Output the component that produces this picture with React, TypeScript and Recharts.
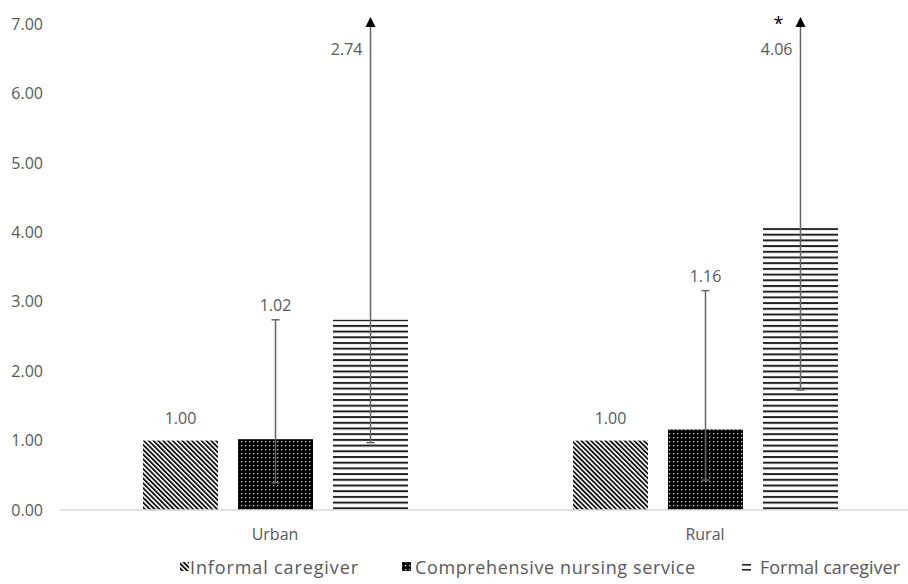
import React from 'react';
import { BarChart, Bar, XAxis, YAxis } from 'recharts';

const categories = ['Urban', 'Rural'];
const informal = [1.0, 1.0];
const comprehensive = [1.02, 1.16];
const comprehensiveLow = [0.39, 0.43];
const comprehensiveHigh = [2.74, 3.16];
const formal = [2.74, 4.06];
const formalLow = [0.97, 1.73];
const formalHigh = [7.7, 9.5]; // beyond axis (shown with arrow)
const formalSig = ['', '*'];
const yTicks = [0, 1, 2, 3, 4, 5, 6, 7];
const legendNames = ['Informal caregiver', 'Comprehensive nursing service', 'Formal caregiver'];

const Y_MAX = 7;
const FONT = '"Open Sans", sans-serif';
const TEXT = '#595959';

const data = categories.map((c, i) => ({
  name: c,
  informal: informal[i],
  comprehensive: comprehensive[i],
  compLow: comprehensiveLow[i],
  compHigh: comprehensiveHigh[i],
  formal: formal[i],
  formalLow: formalLow[i],
  formalHigh: formalHigh[i],
  sig: formalSig[i],
}));

const fmt = (v: number) => v.toFixed(2);

function makeShape(kind: 'informal' | 'comprehensive' | 'formal', pattern: string) {
  return (props: any) => {
    const { x, y, width, height, payload } = props;
    const value = payload[kind];
    const base = y + height;
    const ppu = height / value;
    const yAt = (v: number) => base - v * ppu;
    const cx = x + width / 2;
    const els: any[] = [];
    els.push(<rect key="r" x={x} y={y} width={width} height={height} fill={`url(#${pattern})`} />);
    if (kind === 'informal') {
      els.push(
        <text key="t" x={cx} y={y - 23} dy={6} textAnchor="middle" fontFamily={FONT} fontSize={16} fill={TEXT}>
          {fmt(value)}
        </text>
      );
    } else if (kind === 'comprehensive') {
      const lo = yAt(payload.compLow);
      const hi = yAt(payload.compHigh);
      els.push(<line key="l" x1={cx} x2={cx} y1={lo} y2={hi} stroke="#666" strokeWidth={1.5} />);
      els.push(<line key="c1" x1={cx - 4} x2={cx + 4} y1={lo} y2={lo} stroke="#666" strokeWidth={1.5} />);
      els.push(<line key="c2" x1={cx - 4} x2={cx + 4} y1={hi} y2={hi} stroke="#666" strokeWidth={1.5} />);
      els.push(
        <text key="t" x={cx} y={hi - 15} dy={6} textAnchor="middle" fontFamily={FONT} fontSize={16} fill={TEXT}>
          {fmt(value)}
        </text>
      );
    } else {
      const lo = yAt(payload.formalLow);
      const top = yAt(Math.min(payload.formalHigh, Y_MAX));
      const clipped = payload.formalHigh > Y_MAX;
      els.push(<line key="l" x1={cx} x2={cx} y1={lo} y2={top + 2} stroke="#666" strokeWidth={1.5} />);
      els.push(<line key="c1" x1={cx - 4} x2={cx + 4} y1={lo} y2={lo} stroke="#666" strokeWidth={1.5} />);
      if (clipped) {
        els.push(
          <polygon key="a" points={`${cx - 5},${top + 3} ${cx + 5},${top + 3} ${cx},${top - 7}`} fill="#000" />
        );
      }
      const lx = cx - 8;
      els.push(
        <text key="t" x={lx} y={top + 25} dy={6} textAnchor="end" fontFamily={FONT} fontSize={16} fill={TEXT}>
          {fmt(value)}
        </text>
      );
      if (payload.sig) {
        els.push(
          <text key="s" x={lx - 14} y={top + 6} textAnchor="middle" fontFamily={FONT} fontSize={18} fill="#000">
            {payload.sig}
          </text>
        );
      }
    }
    return <g>{els}</g>;
  };
}

const legendX = [
  { icon: 180, text: 190, w: 168 },
  { icon: 402, text: 415, w: 280 },
  { icon: 742, text: 760, w: 140 },
];
const legendPatterns = ['diag', 'dots', 'hlines'];

export default function App() {
  return (
    <div style={{ position: 'absolute', left: 0, top: 0, width: 908, height: 584, background: '#fff', overflow: 'hidden' }}>
      <svg width={908} height={584} style={{ position: 'absolute', left: 0, top: 0 }}>
        <defs>
          <pattern id="diag" width="3.4" height="3.4" patternUnits="userSpaceOnUse" patternTransform="rotate(-45)">
            <rect width="3.4" height="3.4" fill="#fff" />
            <rect width="1.8" height="3.4" fill="#111" />
          </pattern>
          <pattern id="dots" width="4" height="4" patternUnits="userSpaceOnUse">
            <rect width="4" height="4" fill="#000" />
            <rect x="1" y="1" width="1.3" height="1.3" fill="#d0d0d0" />
          </pattern>
          <pattern id="hlines" width="6" height="5.7" patternUnits="userSpaceOnUse">
            <rect width="6" height="5.7" fill="#fff" />
            <rect y="0" width="6" height="2" fill="#222" />
          </pattern>
        </defs>
        {legendNames.map((n, i) => {
          const lx = legendX[i];
          const label = (
            <text x={lx.text} y={574} fontFamily={FONT} fontSize={18} fill={TEXT} textLength={lx.w} lengthAdjust="spacing">
              {n}
            </text>
          );
          if (i === 2) {
            return (
              <g key={n}>
                <rect x={lx.icon} y={564} width={9} height={1.6} fill="#222" />
                <rect x={lx.icon} y={569} width={9} height={1.6} fill="#222" />
                {label}
              </g>
            );
          }
          return (
            <g key={n}>
              <rect x={lx.icon} y={562} width={9} height={9} fill={`url(#${legendPatterns[i]})`} />
              {label}
            </g>
          );
        })}
      </svg>
      <div style={{ position: 'absolute', left: 0, top: 0 }}>
        <BarChart
          width={908}
          height={584}
          data={data}
          margin={{ top: 24, right: 0, bottom: 0, left: 0 }}
          barSize={75}
          barGap={20}
        >
          <XAxis
            dataKey="name"
            height={74}
            padding={{ left: 0, right: -12 }}
            tickLine={false}
            tickSize={0}
            tickMargin={19}
            axisLine={{ stroke: '#d9d9d9', strokeWidth: 1.5 }}
            tick={{ fill: TEXT, fontSize: 16, fontFamily: FONT }}
          />
          <YAxis
            width={60}
            domain={[0, Y_MAX]}
            ticks={yTicks}
            tickFormatter={fmt}
            axisLine={false}
            tickLine={false}
            tickSize={0}
            tickMargin={17}
            tick={{ fill: TEXT, fontSize: 16, fontFamily: FONT }}
          />
          <Bar dataKey="informal" isAnimationActive={false} shape={makeShape('informal', 'diag')} />
          <Bar dataKey="comprehensive" isAnimationActive={false} shape={makeShape('comprehensive', 'dots')} />
          <Bar dataKey="formal" isAnimationActive={false} shape={makeShape('formal', 'hlines')} />
        </BarChart>
      </div>
    </div>
  );
}
